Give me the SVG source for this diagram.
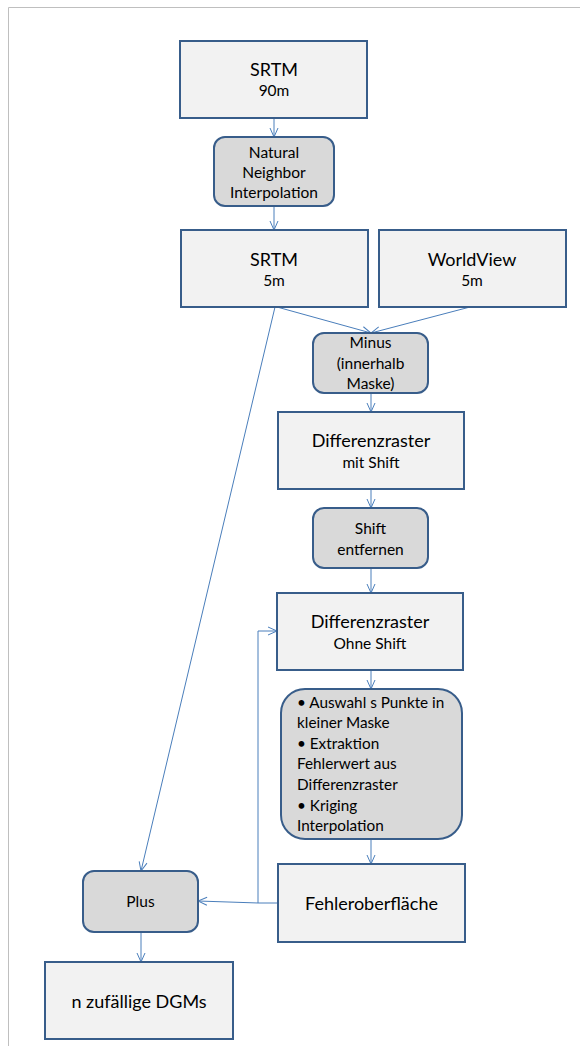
<svg xmlns="http://www.w3.org/2000/svg" width="580" height="1046" viewBox="0 0 580 1046">
<style>
.box{fill:#f2f2f2;stroke:#385d8a;stroke-width:2}
.proc{fill:#d9d9d9;stroke:#385d8a;stroke-width:2}
.t{font-family:Lato,"Liberation Sans",sans-serif;fill:#000;text-anchor:middle}
.big{font-size:18px}
.mid{font-size:15.5px}
.tl{font-family:Lato,"Liberation Sans",sans-serif;fill:#000;font-size:15.3px}
.c{fill:none;stroke:#4a7ebb;stroke-width:1;marker-end:url(#arr)}
</style>
<defs>
<marker id="arr" viewBox="0 0 10 10" refX="10" refY="5" markerWidth="10" markerHeight="10" markerUnits="userSpaceOnUse" orient="auto">
<path d="M1,1 L10,5 L1,9" fill="none" stroke="#4a7ebb" stroke-width="1"/>
</marker>
</defs>
<rect width="580" height="1046" fill="#fff"/>
<path d="M8.5,1046 V7.5 H580" fill="none" stroke="#bfbfbf" stroke-width="1"/>

<g id="connectors">
<line class="c" x1="274" y1="118" x2="274" y2="137"/>
<line class="c" x1="274" y1="206" x2="274" y2="230"/>
<line class="c" x1="277" y1="307" x2="371" y2="333"/>
<line class="c" x1="470" y1="307" x2="371" y2="333"/>
<line class="c" x1="275" y1="307" x2="141" y2="871"/>
<line class="c" x1="371" y1="393" x2="371" y2="412"/>
<line class="c" x1="371" y1="489" x2="371" y2="508"/>
<line class="c" x1="371" y1="568" x2="371" y2="593"/>
<line class="c" x1="371" y1="670" x2="371" y2="689"/>
<line class="c" x1="371" y1="839" x2="371" y2="864"/>
<polyline class="c" points="278,903 258,903 198,901"/>
<polyline class="c" points="258,903 258,631 277,631"/>
<line class="c" x1="141" y1="932" x2="141" y2="962"/>
</g>

<g id="srtm90">
<rect class="box" x="180" y="41" width="187" height="77"/>
<text class="t big" x="274" y="76">SRTM</text>
<text class="t mid" x="274" y="96">90m</text>
</g>
<g id="nn">
<rect class="proc" x="214" y="137" width="120" height="69" rx="11"/>
<text class="t mid" x="274" y="158">Natural</text>
<text class="t mid" x="274" y="178">Neighbor</text>
<text class="t mid" x="274" y="198">Interpolation</text>
</g>
<g id="srtm5">
<rect class="box" x="181" y="230" width="187" height="77"/>
<text class="t big" x="274" y="266">SRTM</text>
<text class="t mid" x="274" y="286">5m</text>
</g>
<g id="worldview">
<rect class="box" x="379" y="230" width="187" height="77"/>
<text class="t big" x="472" y="266">WorldView</text>
<text class="t mid" x="472" y="286">5m</text>
</g>
<g id="minus">
<rect class="proc" x="313" y="333" width="115" height="60" rx="11"/>
<text class="t mid" x="370.5" y="348">Minus</text>
<text class="t mid" x="370.5" y="369">(innerhalb</text>
<text class="t mid" x="370.5" y="389">Maske)</text>
</g>
<g id="diffmit">
<rect class="box" x="278" y="412" width="186" height="77"/>
<text class="t big" x="371" y="447">Differenzraster</text>
<text class="t mid" x="371" y="468">mit Shift</text>
</g>
<g id="shift">
<rect class="proc" x="313" y="508" width="115" height="60" rx="11"/>
<text class="t mid" x="370.5" y="534">Shift</text>
<text class="t mid" x="370.5" y="555">entfernen</text>
</g>
<g id="diffohne">
<rect class="box" x="277" y="593" width="186" height="77"/>
<text class="t big" x="370" y="628">Differenzraster</text>
<text class="t mid" x="370" y="649">Ohne Shift</text>
</g>
<g id="steps">
<rect class="proc" x="281" y="689" width="181" height="150" rx="24"/>
<text class="tl" x="297" y="708">• Auswahl s Punkte in</text>
<text class="tl" x="297" y="728">kleiner Maske</text>
<text class="tl" x="297" y="749">• Extraktion</text>
<text class="tl" x="297" y="769">Fehlerwert aus</text>
<text class="tl" x="297" y="790">Differenzraster</text>
<text class="tl" x="297" y="811">• Kriging</text>
<text class="tl" x="297" y="831">Interpolation</text>
</g>
<g id="fehler">
<rect class="box" x="278" y="864" width="187" height="78"/>
<text class="t big" x="371.5" y="910">Fehleroberfläche</text>
</g>
<g id="plus">
<rect class="proc" x="83" y="871" width="115" height="61" rx="11"/>
<text class="t mid" x="140.5" y="907">Plus</text>
</g>
<g id="dgms">
<rect class="box" x="45" y="962" width="188" height="77"/>
<text class="t big" x="139" y="1008">n zufällige DGMs</text>
</g>
</svg>
